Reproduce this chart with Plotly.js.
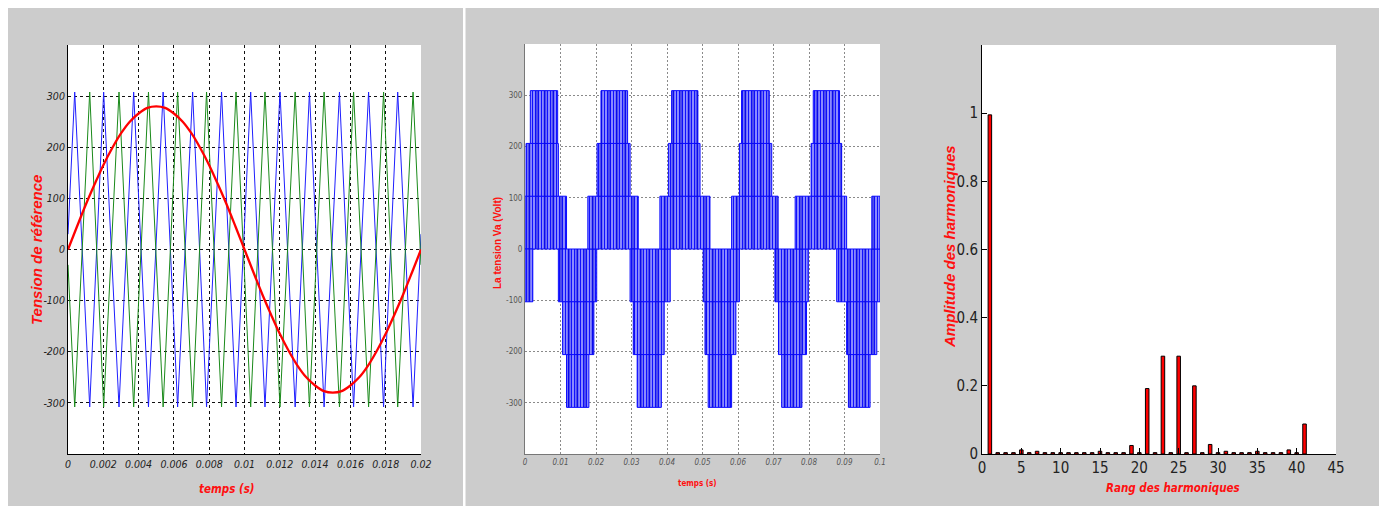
<!DOCTYPE html>
<html>
<head>
<meta charset="utf-8">
<script src="https://cdn.plot.ly/plotly-3.0.1.min.js"></script>
<style>
  html, body { margin: 0; padding: 0; background: #ffffff; }
  #chart { width: 1379px; height: 506px; }
</style>
</head>
<body>
<div id="chart"></div>
<script>
// ---------- Panel 1: carriers and reference ----------
const carrierT = [0, 0.00038, 0.00123, 0.00202, 0.00289, 0.00372, 0.00456, 0.00539, 0.00621,
  0.00706, 0.00785, 0.00870, 0.00952, 0.01035, 0.01116, 0.01201, 0.01287, 0.01368, 0.01451,
  0.01538, 0.01618, 0.01703, 0.01788, 0.01868, 0.01955, 0.02];
const blueV = [30, 308, -308, 308, -308, 308, -308, 308, -308, 308, -308, 308, -308, 308, -308,
  308, -308, 308, -308, 308, -308, 308, -308, 308, -308, 30];
const greenV = [-30, -308, 308, -308, 308, -308, 308, -308, 308, -308, 308, -308, 308, -308, 308,
  -308, 308, -308, 308, -308, 308, -308, 308, -308, 308, -30];
const refT = [0, 0.0005, 0.001, 0.0015, 0.002, 0.0025, 0.003, 0.0035, 0.004, 0.0045, 0.005,
  0.0055, 0.006, 0.0065, 0.007, 0.0075, 0.008, 0.0085, 0.009, 0.0095, 0.01,
  0.0105, 0.011, 0.0115, 0.012, 0.0125, 0.013, 0.0135, 0.014, 0.0145, 0.015,
  0.0155, 0.016, 0.0165, 0.017, 0.0175, 0.018, 0.0185, 0.019, 0.0195, 0.02];
const refV = [0, 44, 87, 127, 165, 198, 227, 250, 266, 277, 280,
  277, 266, 250, 227, 198, 165, 127, 87, 44, 0,
  -44, -87, -127, -165, -198, -227, -250, -266, -277, -280,
  -277, -266, -250, -227, -198, -165, -127, -87, -44, 0];
const p1XTicks = [0, 0.002, 0.004, 0.006, 0.008, 0.01, 0.012, 0.014, 0.016, 0.018, 0.02];
const p1XLabels = ['0', '0.002', '0.004', '0.006', '0.008', '0.01', '0.012', '0.014', '0.016', '0.018', '0.02'];
const p1YTicks = [-300, -200, -100, 0, 100, 200, 300];
const p1YLabels = ['-300', '-200', '-100', '0', '100', '200', '300'];

// ---------- Panel 2: multilevel output, switching bands ----------
const blkStart = [0, 0.0003, 0.0015, 0, 0.0094, 0.0106, 0.0117,
  0.0177, 0.0203, 0.0214, 0.0296, 0.0305, 0.0316,
  0.0380, 0.0404, 0.0413, 0.0502, 0.0507, 0.0516,
  0.0582, 0.0604, 0.0610, 0.0704, 0.0714, 0.0723,
  0.0761, 0.0806, 0.0812, 0.0878, 0.0906, 0.0911, 0.0977];
const blkEnd = [0.0117, 0.0094, 0.0092, 0.0022, 0.0202, 0.0194, 0.0180,
  0.0319, 0.0296, 0.0289, 0.0409, 0.0392, 0.0384,
  0.0521, 0.0493, 0.0487, 0.0604, 0.0594, 0.0582,
  0.0713, 0.0695, 0.0688, 0.0798, 0.0793, 0.0780,
  0.0906, 0.0892, 0.0886, 0.1000, 0.0991, 0.0972, 0.1000];
const blkLow = [0, 103, 206, -103, -103, -206, -309,
  0, 103, 206, -103, -206, -309,
  0, 103, 206, -103, -206, -309,
  0, 103, 206, -103, -206, -309,
  0, 103, 206, -103, -206, -309, 0];
const blkHigh = [103, 206, 309, 0, 0, -103, -206,
  103, 206, 309, 0, -103, -206,
  103, 206, 309, 0, -103, -206,
  103, 206, 309, 0, -103, -206,
  103, 206, 309, 0, -103, -206, 103];
const p2XTicks = [0, 0.01, 0.02, 0.03, 0.04, 0.05, 0.06, 0.07, 0.08, 0.09, 0.1];
const p2XLabels = ['0', '0.01', '0.02', '0.03', '0.04', '0.05', '0.06', '0.07', '0.08', '0.09', '0.1'];
const p2YTicks = [-300, -200, -100, 0, 100, 200, 300];
const p2YLabels = ['-300', '-200', '-100', '0', '100', '200', '300'];

// ---------- Panel 3: harmonic spectrum ----------
const harmRank = [1, 2, 3, 4, 5, 6, 7, 8, 9, 10, 11, 12, 13, 14, 15, 16, 17, 18, 19, 20,
  21, 22, 23, 24, 25, 26, 27, 28, 29, 30, 31, 32, 33, 34, 35, 36, 37, 38, 39, 40, 41];
const harmAmp = [0.995, 0.004, 0.004, 0.004, 0.012, 0.004, 0.008, 0.004, 0.004, 0.004,
  0.004, 0.004, 0.004, 0.004, 0.008, 0.004, 0.004, 0.004, 0.025, 0.004,
  0.192, 0.004, 0.287, 0.004, 0.287, 0.004, 0.200, 0.004, 0.028, 0.004,
  0.008, 0.004, 0.004, 0.004, 0.008, 0.004, 0.004, 0.004, 0.012, 0.004, 0.088];
const p3XTicks = [0, 5, 10, 15, 20, 25, 30, 35, 40, 45];
const p3XLabels = ['0', '5', '10', '15', '20', '25', '30', '35', '40', '45'];
const p3YTicks = [0, 0.2, 0.4, 0.6, 0.8, 1];
const p3YLabels = ['0', '0.2', '0.4', '0.6', '0.8', '1'];

// ---------- Build ----------
const NARROW = 'Liberation Sans Narrow, Arial Narrow, DejaVu Sans Condensed, Liberation Sans, Arial, sans-serif';
const SANS = 'Liberation Sans, Arial, sans-serif';

const blkX = blkStart.map((s, i) => (s + blkEnd[i]) / 2);
const blkW = blkStart.map((s, i) => blkEnd[i] - s);
const blkH = blkLow.map((l, i) => blkHigh[i] - l);

const traces = [
  { type: 'scatter', mode: 'lines', x: carrierT, y: blueV, xaxis: 'x', yaxis: 'y',
    line: { color: '#1f1fff', width: 1 }, hoverinfo: 'skip' },
  { type: 'scatter', mode: 'lines', x: carrierT, y: greenV, xaxis: 'x', yaxis: 'y',
    line: { color: '#1a8a1a', width: 1 }, hoverinfo: 'skip' },
  { type: 'scatter', mode: 'lines', x: refT, y: refV, xaxis: 'x', yaxis: 'y',
    line: { color: '#ff0000', width: 2.3, shape: 'spline' }, hoverinfo: 'skip' },
  { type: 'bar', x: blkX, y: blkH, base: blkLow, width: blkW, xaxis: 'x2', yaxis: 'y2',
    marker: { color: '#9c9cff', line: { color: '#0a0aff', width: 1 },
      pattern: { shape: '|', size: 3, solidity: 0.45, fgcolor: '#1010ff', bgcolor: '#a4a4ff', fillmode: 'replace' } },
    hoverinfo: 'skip' },
  { type: 'bar', x: blkX, y: blkH, base: blkLow, width: blkW, xaxis: 'x2', yaxis: 'y2',
    marker: { color: 'rgba(0,0,0,0)', line: { color: 'rgba(0,0,0,0)', width: 0 },
      pattern: { shape: '|', size: 8, solidity: 0.35, fgcolor: 'rgba(0,0,215,0.9)', bgcolor: 'rgba(0,0,0,0)', fillmode: 'overlay' } },
    hoverinfo: 'skip' },
  { type: 'bar', x: harmRank, y: harmAmp, width: 0.45, xaxis: 'x3', yaxis: 'y3',
    marker: { color: '#ff0000', line: { color: '#000000', width: 1 } }, hoverinfo: 'skip' }
];

function px(x) { return x / 1379; }
function py(y) { return 1 - y / 506; }

const ann = (text, x, y, size, angle, family) => ({
  text: text, xref: 'paper', yref: 'paper', x: px(x), y: py(y), showarrow: false,
  xanchor: 'center', yanchor: 'middle', textangle: angle || 0,
  font: { family: family || SANS, size: size, color: '#ff1010' }
});

const layout = {
  width: 1379, height: 506,
  margin: { l: 0, r: 0, t: 0, b: 0, pad: 0 },
  paper_bgcolor: '#cccccc', plot_bgcolor: '#ffffff',
  showlegend: false, barmode: 'overlay',
  xaxis: { domain: [px(68), px(421)], anchor: 'y', range: [0, 0.02],
    tickmode: 'array', tickvals: p1XTicks, ticktext: p1XLabels, ticks: '',
    showgrid: true, gridcolor: '#111111', gridwidth: 1, griddash: '3px,3px',
    zeroline: false, showline: true, linecolor: '#000000', linewidth: 1,
    tickfont: { family: NARROW, size: 10.5, color: '#222222', style: 'italic' } },
  yaxis: { domain: [py(454), py(45)], anchor: 'x', range: [-400, 400],
    tickmode: 'array', tickvals: p1YTicks, ticktext: p1YLabels, ticks: '',
    showgrid: true, gridcolor: '#111111', gridwidth: 1, griddash: '3px,3px',
    zeroline: false, showline: true, linecolor: '#000000', linewidth: 1,
    tickfont: { family: NARROW, size: 10.5, color: '#222222', style: 'italic' } },
  xaxis2: { domain: [px(525), px(880)], anchor: 'y2', range: [0, 0.1],
    tickmode: 'array', tickvals: p2XTicks, ticktext: p2XLabels, ticks: '',
    showgrid: true, gridcolor: '#8a8a8a', gridwidth: 1, griddash: '2px,2px',
    zeroline: false, showline: true, linecolor: '#777777', linewidth: 1,
    tickfont: { family: NARROW, size: 8, color: '#555555', style: 'italic' } },
  yaxis2: { domain: [py(454), py(44)], anchor: 'x2', range: [-400, 400],
    tickmode: 'array', tickvals: p2YTicks, ticktext: p2YLabels, ticks: '',
    showgrid: true, gridcolor: '#8a8a8a', gridwidth: 1, griddash: '2px,2px',
    zeroline: false, showline: true, linecolor: '#777777', linewidth: 1,
    tickfont: { family: NARROW, size: 8, color: '#555555' } },
  xaxis3: { domain: [px(982), px(1336)], anchor: 'y3', range: [0, 45],
    tickmode: 'array', tickvals: p3XTicks, ticktext: p3XLabels,
    ticks: 'inside', ticklen: 6, tickcolor: '#000000', tickwidth: 1,
    showgrid: false, zeroline: false, showline: true, linecolor: '#000000', linewidth: 1,
    tickfont: { family: NARROW, size: 15, color: '#222222' } },
  yaxis3: { domain: [py(454), py(45)], anchor: 'x3', range: [0, 1.2],
    tickmode: 'array', tickvals: p3YTicks, ticktext: p3YLabels,
    ticks: 'inside', ticklen: 5, tickcolor: '#000000', tickwidth: 1,
    showgrid: false, zeroline: false, showline: true, linecolor: '#000000', linewidth: 1,
    tickfont: { family: NARROW, size: 15, color: '#222222' } },
  shapes: [
    { type: 'rect', xref: 'paper', yref: 'paper', x0: 0, x1: 1, y0: py(8), y1: 1,
      fillcolor: '#ffffff', line: { width: 0 }, layer: 'below' },
    { type: 'rect', xref: 'paper', yref: 'paper', x0: 0, x1: px(8), y0: 0, y1: 1,
      fillcolor: '#ffffff', line: { width: 0 }, layer: 'below' },
    { type: 'rect', xref: 'paper', yref: 'paper', x0: px(463), x1: px(465.5), y0: 0, y1: 1,
      fillcolor: '#ffffff', line: { width: 0 }, layer: 'below' }
  ],
  annotations: [
    ann('<b><i>Tension de référence</i></b>', 36, 250, 15, -90),
    ann('<b><i>temps (s)</i></b>', 227, 489, 11.5, 0, NARROW),
    ann('<b>La tension Va (Volt)</b>', 497, 243, 10, -90),
    ann('<b>temps (s)</b>', 697, 483, 8, 0, NARROW),
    ann('<b><i>Amplitude des harmoniques</i></b>', 949, 247, 15, -90),
    ann('<b><i>Rang des harmoniques</i></b>', 1173, 488, 11.5, 0, NARROW)
  ]
};

Plotly.newPlot('chart', traces, layout, { staticPlot: true, displayModeBar: false });
</script>
</body>
</html>
